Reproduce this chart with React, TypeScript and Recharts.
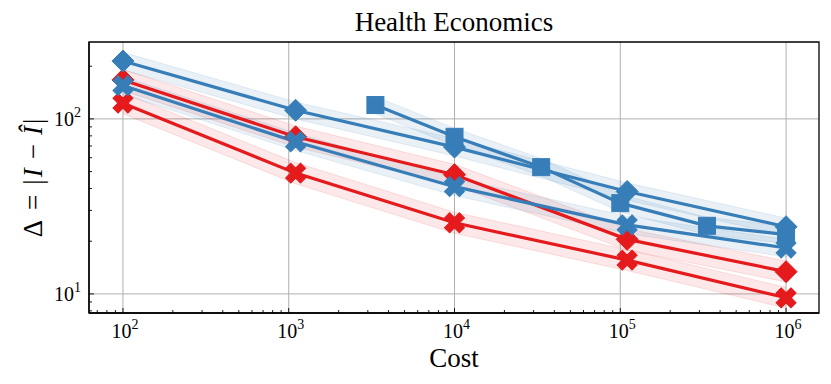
import React from 'react';
import { ComposedChart, Line, Area, XAxis, YAxis, CartesianGrid, ReferenceArea } from 'recharts';

const BLUE = '#377eb8';
const RED = '#e41a1c';
const FONT = "'Liberation Serif', 'DejaVu Serif', serif";

// x values (cost)
const costs = [100, 1100, 10000, 110000, 1000000];
const squareCosts = [3333, 10000, 33333, 100000, 333333, 1000000];

// series values
const blueDiamond = [214, 112, 69, 38.5, 24.2];
const blueDiamondLo = [190, 100, 61.4, 34.3, 21.5];
const blueDiamondHi = [240, 125, 77.3, 43.1, 27.1];

const blueCross = [155, 74, 41, 24.8, 18.3];
const blueCrossLo = [138, 66, 36.5, 22.1, 16.3];
const blueCrossHi = [174, 83, 46, 27.8, 20.5];

const blueSquare = [120, 79, 53, 33, 24.5, 21.8];
const blueSquareLo = [107, 70.3, 47.2, 29.4, 21.8, 19.4];
const blueSquareHi = [134, 88.5, 59.4, 37, 27.4, 24.4];

const redDiamond = [167, 79, 48, 20.5, 13.4];
const redDiamondLo = [145, 69, 41.8, 17.8, 11.7];
const redDiamondHi = [192, 91, 55, 23.6, 15.4];

const redCross = [123, 49, 25.5, 15.6, 9.5];
const redCrossLo = [107, 42.6, 22.2, 13.6, 8.3];
const redCrossHi = [141, 56.3, 29.3, 17.9, 10.9];

// axes
const xDomain = [62.4, 1.58e6];
const yDomain = [7.78, 275];
const xMajor = [1e2, 1e3, 1e4, 1e5, 1e6];
const yMajor = [10, 100];
const xMinor = [70, 80, 90, 200, 300, 400, 500, 600, 700, 800, 900,
  2000, 3000, 4000, 5000, 6000, 7000, 8000, 9000,
  20000, 30000, 40000, 50000, 60000, 70000, 80000, 90000,
  200000, 300000, 400000, 500000, 600000, 700000, 800000, 900000];
const yMinor = [8, 9, 20, 30, 40, 50, 60, 70, 80, 90, 200];
const xTicks = [...xMajor, ...xMinor].sort((a, b) => a - b);
const yTicks = [...yMajor, ...yMinor].sort((a, b) => a - b);

type Marker = 'D' | 'X' | 's';
interface Series { key: string; xs: number[]; mid: number[]; lo: number[]; hi: number[]; color: string; marker: Marker; band: number; }

const series: Series[] = [
  { key: 'rx', xs: costs, mid: redCross, lo: redCrossLo, hi: redCrossHi, color: RED, marker: 'X', band: 0.1 },
  { key: 'rd', xs: costs, mid: redDiamond, lo: redDiamondLo, hi: redDiamondHi, color: RED, marker: 'D', band: 0.1 },
  { key: 'bx', xs: costs, mid: blueCross, lo: blueCrossLo, hi: blueCrossHi, color: BLUE, marker: 'X', band: 0.11 },
  { key: 'bd', xs: costs, mid: blueDiamond, lo: blueDiamondLo, hi: blueDiamondHi, color: BLUE, marker: 'D', band: 0.11 },
  { key: 'bs', xs: squareCosts, mid: blueSquare, lo: blueSquareLo, hi: blueSquareHi, color: BLUE, marker: 's', band: 0.11 },
];

const allX = Array.from(new Set([...costs, ...squareCosts])).sort((a, b) => a - b);
const rows = allX.map((x) => {
  const r: Record<string, any> = { x };
  series.forEach((s) => {
    const i = s.xs.indexOf(x);
    if (i >= 0) {
      r[s.key] = s.mid[i];
      r[s.key + 'Band'] = [s.lo[i], s.hi[i]];
    }
  });
  return r;
});

const renderMarker = (marker: Marker, color: string) => (props: any) => {
  const { cx, cy, index } = props;
  if (cx == null || cy == null || isNaN(cy)) return <g key={`n${index}`} />;
  if (marker === 'D') {
    const r = 11;
    return <path key={`m${index}`} d={`M${cx},${cy - r}L${cx + r},${cy}L${cx},${cy + r}L${cx - r},${cy}Z`} fill={color} stroke={color} strokeWidth={1} />;
  }
  if (marker === 's') {
    const h = 8.5;
    return <rect key={`m${index}`} x={cx - h} y={cy - h} width={2 * h} height={2 * h} fill={color} stroke={color} strokeWidth={1} />;
  }
  const L = 10.5, t = 3.6;
  const pts = [[-t, -L], [t, -L], [t, -t], [L, -t], [L, t], [t, t], [t, L], [-t, L], [-t, t], [-L, t], [-L, -t], [-t, -t]];
  const d = 'M' + pts.map((p) => `${p[0]},${p[1]}`).join('L') + 'Z';
  return <path key={`m${index}`} d={d} transform={`translate(${cx},${cy}) rotate(45)`} fill={color} stroke={color} strokeWidth={1} />;
};

const expOf = (v: number) => Math.round(Math.log10(v));

const XTick = (props: any) => {
  const { x, y, payload } = props;
  const v = payload.value;
  const major = xMajor.includes(v);
  return (
    <g>
      <line x1={x} y1={y} x2={x} y2={y - (major ? 5 : 3)} stroke="#000" strokeWidth={0.9} />
      {major && (
        <text x={x + 2} y={y + 25} textAnchor="middle" fontFamily={FONT} fontSize={20} fill="#000">
          10<tspan dy={-9} fontSize={14}>{expOf(v)}</tspan>
        </text>
      )}
    </g>
  );
};

const YTick = (props: any) => {
  const { x, y, payload } = props;
  const v = payload.value;
  const major = yMajor.includes(v);
  return (
    <g>
      <line x1={x} y1={y} x2={x + (major ? 5 : 3)} y2={y} stroke="#000" strokeWidth={0.9} />
      {major && (
        <text x={x - 8} y={y + 7} textAnchor="end" fontFamily={FONT} fontSize={20} fill="#000">
          10<tspan dy={-9} fontSize={14}>{expOf(v)}</tspan>
        </text>
      )}
    </g>
  );
};

export default function App() {
  return (
    <div style={{ position: 'absolute', left: 0, top: 0, width: 831, height: 384, background: '#fff' }}>
      <ComposedChart width={831} height={384} data={rows} margin={{ top: 42, right: 12, bottom: 0, left: 0 }}>
        <XAxis xAxisId="b" dataKey="x" type="number" scale="log" domain={xDomain} allowDataOverflow
          ticks={xTicks} interval={0} tickSize={0} tickMargin={0} tick={<XTick />} tickLine={false}
          axisLine={{ stroke: '#000', strokeWidth: 1.3 }} height={71} />
        <YAxis yAxisId="l" type="number" scale="log" domain={yDomain} allowDataOverflow
          ticks={yTicks} interval={0} tickSize={0} tickMargin={0} tick={<YTick />} tickLine={false}
          axisLine={{ stroke: '#000', strokeWidth: 1.3 }} width={89} />
        <CartesianGrid xAxisId="b" yAxisId="l" verticalValues={xMajor} horizontalValues={yMajor}
          stroke="#b0b0b0" strokeWidth={1} />
        {series.map((s) => (
          <Area key={s.key + 'a'} xAxisId="b" yAxisId="l" type="linear" dataKey={s.key + 'Band'} connectNulls
            stroke={s.color} strokeOpacity={0.12} strokeWidth={1} fill={s.color} fillOpacity={s.band}
            dot={false} activeDot={false} isAnimationActive={false} />
        ))}
        {series.map((s) => (
          <Line key={s.key} xAxisId="b" yAxisId="l" type="linear" dataKey={s.key} connectNulls
            stroke={s.color} strokeWidth={3.2} dot={renderMarker(s.marker, s.color)} activeDot={false}
            isAnimationActive={false} />
        ))}
        <ReferenceArea xAxisId="b" yAxisId="l" x1={xDomain[0]} x2={xDomain[1]} y1={yDomain[0]} y2={yDomain[1]}
          ifOverflow="visible" fill="none" fillOpacity={0} stroke="#000" strokeWidth={1.3} />
      </ComposedChart>
      <svg width={831} height={384} style={{ position: 'absolute', left: 0, top: 0, pointerEvents: 'none' }}>
        <text x={454} y={31} textAnchor="middle" fontFamily={FONT} fontSize={27} fill="#000">Health Economics</text>
        <text x={454} y={367} textAnchor="middle" fontFamily={FONT} fontSize={27} fill="#000">Cost</text>
        <text transform="translate(42,178) rotate(-90)" textAnchor="middle" fontFamily={FONT} fontSize={27} fill="#000">
          Δ<tspan dx={10}>=</tspan><tspan dx={10}>|</tspan><tspan fontStyle="italic" dx={2}>I</tspan><tspan dx={9}>−</tspan><tspan dx={9} fontStyle="italic">Î</tspan><tspan dx={2}>|</tspan>
        </text>
      </svg>
    </div>
  );
}
